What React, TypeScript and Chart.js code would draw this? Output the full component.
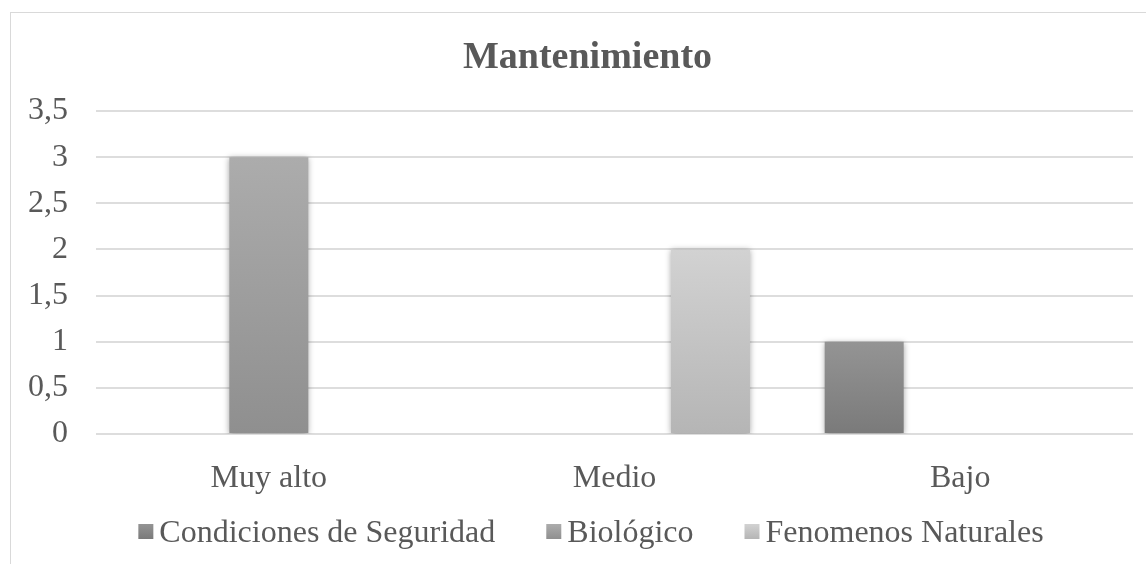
import React, { useEffect, useRef } from "react";
import { Chart, registerables } from "chart.js";

Chart.register(...registerables);

const FONT = "'Liberation Serif', 'Times New Roman', serif";
const TEXT_COLOR = "#595959";

const chartTitle = "Mantenimiento";
const categories = ["Muy alto", "Medio", "Bajo"];
const seriesNames = ["Condiciones de Seguridad", "Biológico", "Fenomenos Naturales"];
const condicionesSeguridad = [0, 0, 1];
const biologico = [3, 0, 0];
const fenomenosNaturales = [0, 2, 0];
const yTickLabels = ["0", "0,5", "1", "1,5", "2", "2,5", "3", "3,5"];

const seriesTop = ["#949494", "#acacac", "#d2d2d2"];
const seriesBottom = ["#7a7a7a", "#8f8f8f", "#b5b5b5"];

function gradientFor(i: number) {
  return (c: any) => {
    const chart = c.chart;
    if (!chart.chartArea || c.type !== "data" || !chart.scales.y) return seriesBottom[i];
    const y = chart.scales.y;
    const top = y.getPixelForValue(c.raw);
    const bottom = y.getPixelForValue(0);
    if (!(bottom > top)) return seriesBottom[i];
    const g = chart.ctx.createLinearGradient(0, top, 0, bottom);
    g.addColorStop(0, seriesTop[i]);
    g.addColorStop(1, seriesBottom[i]);
    return g;
  };
}

const shadowPlugin = {
  id: "barShadow",
  beforeDatasetsDraw(chart: any) {
    const ctx = chart.ctx;
    ctx.save();
    ctx.shadowColor = "rgba(0,0,0,0.35)";
    ctx.shadowBlur = 6;
    ctx.shadowOffsetX = 0;
    ctx.shadowOffsetY = 1;
  },
  afterDatasetsDraw(chart: any) {
    chart.ctx.restore();
  },
};

const titlePlugin = {
  id: "customTitle",
  afterDraw(chart: any) {
    const ctx = chart.ctx;
    ctx.save();
    ctx.font = `bold 38px ${FONT}`;
    ctx.fillStyle = TEXT_COLOR;
    ctx.textAlign = "center";
    ctx.textBaseline = "alphabetic";
    ctx.fillText(chartTitle, 587.5, 68);
    ctx.restore();
  },
};

const legendPlugin = {
  id: "customLegend",
  afterDraw(chart: any) {
    const ctx = chart.ctx;
    ctx.save();
    ctx.font = `32px ${FONT}`;
    const box = 15;
    const gap = 6;
    const spacing = 51;
    const widths = seriesNames.map((n) => ctx.measureText(n).width);
    const total =
      widths.reduce((a, w) => a + box + gap + w, 0) + spacing * (seriesNames.length - 1);
    const centerX = 591;
    const baseline = 542;
    let x = centerX - total / 2;
    seriesNames.forEach((name, i) => {
      const bTop = baseline - 18;
      const g = ctx.createLinearGradient(0, bTop, 0, bTop + box);
      g.addColorStop(0, seriesTop[i]);
      g.addColorStop(1, seriesBottom[i]);
      ctx.fillStyle = g;
      ctx.fillRect(x, bTop, box, box);
      x += box + gap;
      ctx.fillStyle = TEXT_COLOR;
      ctx.textBaseline = "alphabetic";
      ctx.textAlign = "left";
      ctx.fillText(name, x, baseline);
      x += widths[i] + spacing;
    });
    ctx.restore();
  },
};

export default function App() {
  const ref = useRef<HTMLCanvasElement | null>(null);

  useEffect(() => {
    if (!ref.current) return;
    const values = [condicionesSeguridad, biologico, fenomenosNaturales];
    const chart = new Chart(ref.current, {
      type: "bar",
      data: {
        labels: categories,
        datasets: seriesNames.map((name, i) => ({
          label: name,
          data: values[i],
          backgroundColor: gradientFor(i),
          borderWidth: 0,
          categoryPercentage: 0.833,
          barPercentage: 0.823,
        })),
      },
      options: {
        animation: false,
        responsive: false,
        devicePixelRatio: 1,
        layout: { padding: { left: 0, right: 13, top: 111, bottom: 40 } },
        plugins: {
          legend: { display: false },
          tooltip: { enabled: false },
          title: { display: false },
        },
        scales: {
          x: {
            grid: { display: false },
            border: { display: false },
            ticks: {
              color: TEXT_COLOR,
              font: { family: FONT, size: 32, lineHeight: 1.2 },
              padding: 17,
              maxRotation: 0,
            },
            afterFit: (s: any) => {
              s.height = 90;
            },
          },
          y: {
            min: 0,
            max: 3.5,
            border: { display: false },
            grid: { color: "#dddddd", lineWidth: 2, drawTicks: false },
            ticks: {
              stepSize: 0.5,
              color: TEXT_COLOR,
              font: { family: FONT, size: 32, lineHeight: 1.2 },
              padding: 28,
              callback: (_v: any, idx: number) => yTickLabels[idx],
            },
            afterFit: (s: any) => {
              s.width = 96;
            },
          },
        },
      },
      plugins: [shadowPlugin, titlePlugin, legendPlugin],
    } as any);
    return () => chart.destroy();
  }, []);

  return (
    <div
      style={{
        position: "absolute",
        left: 0,
        top: 0,
        width: 1146,
        height: 564,
        overflow: "hidden",
        background: "#ffffff",
      }}
    >
      <canvas ref={ref} width={1146} height={564} style={{ display: "block", position: "absolute", left: 0, top: 0 }} />
      <div
        style={{
          position: "absolute",
          left: 10,
          top: 12,
          width: 1300,
          height: 700,
          borderLeft: "1px solid #d9d9d9",
          borderTop: "1px solid #d9d9d9",
          pointerEvents: "none",
        }}
      />
    </div>
  );
}
